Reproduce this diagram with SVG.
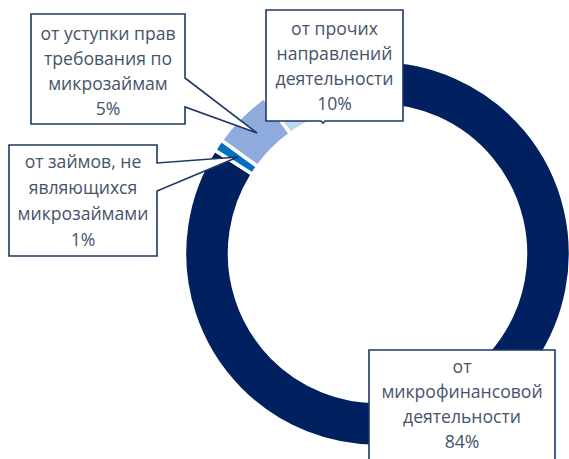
<svg xmlns="http://www.w3.org/2000/svg" width="569" height="459" viewBox="0 0 569 459">
<style>
.seg{stroke:#fff;stroke-width:3.5;stroke-linejoin:miter}
.box{fill:#fff;stroke:#1F3763;stroke-width:1.6;stroke-linejoin:miter}
.t{font-family:"Open Sans","Noto Sans",sans-serif;font-size:17.6px;fill:#44546A;text-anchor:middle}
</style>
<rect width="569" height="459" fill="#fff"/>
<g id="donut">
<path class="seg" fill="#002060" d="M377.5 60.5 A193 193 0 1 1 214.54 150.08 L252.54 174.2 A148 148 0 1 0 377.5 105.5 Z"/>
<path class="seg" fill="#0070C0" d="M214.54 150.08 A193 193 0 0 1 221.36 140.06 L257.77 166.51 A148 148 0 0 0 252.54 174.2 Z"/>
<path class="seg" fill="#8FAADC" d="M221.36 140.06 A193 193 0 0 1 264.06 97.36 L290.51 133.77 A148 148 0 0 0 257.77 166.51 Z"/>
<path class="seg" fill="#BDD7EE" d="M264.06 97.36 A193 193 0 0 1 377.5 60.5 L377.5 105.5 A148 148 0 0 0 290.51 133.77 Z"/>
</g>
<g id="connectors"></g>
<g id="label-5">
<path class="box" d="M31 14 H185 V78 L257 133 L185 107 V124 H31 Z"/>
<text class="t" x="108" y="40">от уступки прав</text>
<text class="t" x="108" y="65">требования по</text>
<text class="t" x="108" y="90">микрозаймам</text>
<text class="t" x="108" y="115">5%</text>
</g>
<g id="label-1">
<path class="box" d="M9 145 H157 V163 L238 157 L157 191 V256 H9 Z"/>
<text class="t" x="83" y="168">от займов, не</text>
<text class="t" x="83" y="194">являющихся</text>
<text class="t" x="83" y="220">микрозаймами</text>
<text class="t" x="83" y="246">1%</text>
</g>
<g id="label-10">
<path class="box" d="M266 10 H403 V121 H325 L323 123 L321 121 H266 Z"/>
<text class="t" x="334.5" y="35">от прочих</text>
<text class="t" x="334.5" y="60">направлений</text>
<text class="t" x="334.5" y="85">деятельности</text>
<text class="t" x="334.5" y="110">10%</text>
</g>
<g id="label-84">
<path class="box" d="M369 350 H555 V470 H369 Z"/>
<text class="t" x="462" y="373">от</text>
<text class="t" x="462" y="398">микрофинансовой</text>
<text class="t" x="462" y="423">деятельности</text>
<text class="t" x="462" y="448">84%</text>
</g>
</svg>
